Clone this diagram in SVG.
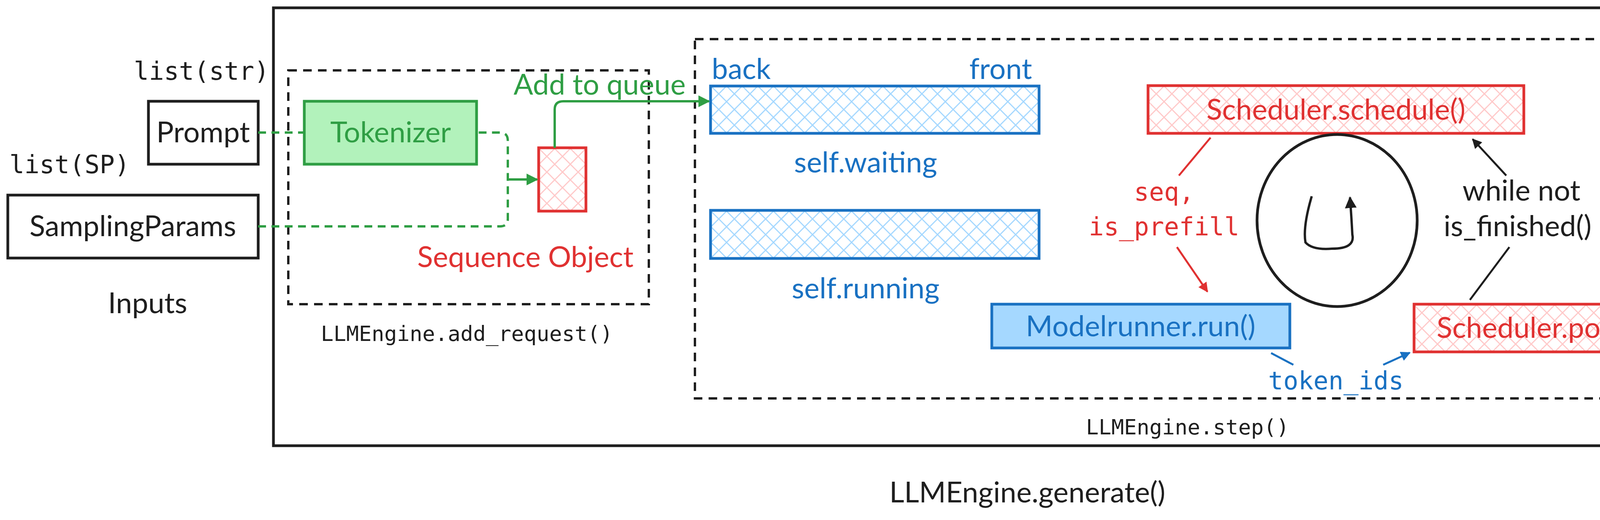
<svg xmlns="http://www.w3.org/2000/svg" width="5361" height="1330" viewBox="0 0 5361 1330">
<style>
text{font-family:"Lato","Noto Sans",sans-serif;font-size:74px}
.mono{font-family:"DejaVu Sans Mono","Liberation Mono",monospace;font-size:54px;fill:#1e1e1e}
.k{fill:#1e1e1e}.g{fill:#2f9e44}.r{fill:#e03131}.b{fill:#1971c2}
.box{fill:#fff;stroke:#1e1e1e;stroke-width:7}
.dash{fill:none;stroke:#1e1e1e;stroke-width:6;stroke-dasharray:22 16}
.gl{fill:none;stroke:#2f9e44;stroke-width:6}
.gd{fill:none;stroke:#2f9e44;stroke-width:6;stroke-dasharray:20 14}
</style>
<defs>
<pattern id="hr" width="40" height="40" patternUnits="userSpaceOnUse"><rect width="40" height="40" fill="#fff"/><path d="M0 0L40 40M40 0L0 40" stroke="#ffc9c9" stroke-width="3"/></pattern>
<pattern id="hb" width="40" height="40" patternUnits="userSpaceOnUse"><rect width="40" height="40" fill="#fff"/><path d="M0 0L40 40M40 0L0 40" stroke="#a5d8ff" stroke-width="3"/></pattern>
<marker id="ag" viewBox="0 0 10 10" refX="9" refY="5" markerWidth="5" markerHeight="5" orient="auto"><path d="M0 0L10 5L0 10z" fill="#2f9e44"/></marker>
<marker id="ar" viewBox="0 0 10 10" refX="9" refY="5" markerWidth="5" markerHeight="5" orient="auto"><path d="M0 0L10 5L0 10z" fill="#e03131"/></marker>
<marker id="ak" viewBox="0 0 10 10" refX="9" refY="5" markerWidth="5" markerHeight="5" orient="auto"><path d="M0 0L10 5L0 10z" fill="#1e1e1e"/></marker>
<marker id="ab" viewBox="0 0 10 10" refX="9" refY="5" markerWidth="5" markerHeight="5" orient="auto"><path d="M0 0L10 5L0 10z" fill="#1971c2"/></marker>
</defs>
<rect width="5361" height="1330" fill="#fff"/>
<g id="generate"><rect x="700" y="20" width="3917" height="1120" class="box" fill="none"/><text x="2630" y="1285" text-anchor="middle" class="k">LLMEngine.generate()</text></g>
<g id="add_request"><rect x="738" y="180" width="923" height="598" class="dash"/><text x="1195" y="872" text-anchor="middle" class="mono">LLMEngine.add_request()</text></g>
<g id="step"><rect x="1779" y="100" width="2761" height="919" class="dash"/><text x="3040" y="1111" text-anchor="middle" class="mono">LLMEngine.step()</text></g>
<g id="inputs"><text x="516" y="204" text-anchor="middle" class="mono" style="font-size:64px">list(str)</text><text x="178" y="443" text-anchor="middle" class="mono" style="font-size:64px">list(SP)</text><text x="378" y="801" text-anchor="middle" class="k">Inputs</text></g>
<g id="prompt"><rect x="380" y="259" width="281" height="161" class="box"/><text x="520" y="364" text-anchor="middle" class="k">Prompt</text></g>
<g id="sampling"><rect x="20" y="499" width="641" height="161" class="box"/><text x="340" y="604" text-anchor="middle" class="k">SamplingParams</text></g>
<g id="tokenizer"><rect x="779" y="259" width="441" height="161" fill="#b2f2bb" stroke="#2f9e44" stroke-width="7"/><text x="1000" y="364" text-anchor="middle" class="g">Tokenizer</text></g>
<g id="sequence"><rect x="1379" y="378" width="121" height="162" fill="url(#hr)" stroke="#e03131" stroke-width="7"/><text x="1345" y="683" text-anchor="middle" class="r">Sequence Object</text></g>
<g id="waiting"><rect x="1819" y="220" width="841" height="121" fill="url(#hb)" stroke="#1971c2" stroke-width="7"/><text x="1822" y="202" class="b">back</text><text x="2642" y="202" text-anchor="end" class="b">front</text><text x="2216" y="441" text-anchor="middle" class="b">self.waiting</text></g>
<g id="running"><rect x="1819" y="538" width="841" height="123" fill="url(#hb)" stroke="#1971c2" stroke-width="7"/><text x="2216" y="763" text-anchor="middle" class="b">self.running</text></g>
<g id="schedule"><rect x="2939" y="219" width="962" height="122" fill="url(#hr)" stroke="#e03131" stroke-width="7"/><text x="3420" y="306" text-anchor="middle" class="r">Scheduler.schedule()</text></g>
<g id="modelrunner"><rect x="2539" y="778" width="763" height="112" fill="#a5d8ff" stroke="#1971c2" stroke-width="7"/><text x="2920" y="860" text-anchor="middle" class="b">Modelrunner.run()</text></g>
<g id="postprocess"><rect x="3620" y="778" width="881" height="122" fill="url(#hr)" stroke="#e03131" stroke-width="7"/><text x="4060" y="864" text-anchor="middle" class="r">Scheduler.postprocess()</text></g>
<g id="loop"><ellipse cx="3423" cy="564" rx="205" ry="220" fill="none" stroke="#1e1e1e" stroke-width="7"/><path d="M3358 502 Q3335 580 3342 620 Q3360 640 3410 636 Q3470 636 3462 600 Q3460 560 3456 505" fill="none" stroke="#1e1e1e" stroke-width="6" marker-end="url(#ak)"/></g>
<g id="output"><text x="5040" y="403" text-anchor="middle" class="k">Output</text><text x="5040" y="492" text-anchor="middle" class="k">finished requests</text><text x="5040" y="585" text-anchor="middle" class="k">(ate each step)</text></g>
<g id="connectors">
<path d="M661 339H779" class="gd"/>
<path d="M661 579H1280Q1300 579 1300 560V360Q1300 339 1280 339H1220" class="gd"/>
<path d="M1300 459H1375" class="gl" marker-end="url(#ag)"/>
<path d="M1420 378V280Q1420 259 1442 259H1815" class="gl" marker-end="url(#ag)"/>
<text x="1535" y="242" text-anchor="middle" class="g">Add to queue</text>
<path d="M3099 352L3018 449" fill="none" stroke="#e03131" stroke-width="5"/>
<path d="M3013 632L3091 746" fill="none" stroke="#e03131" stroke-width="5" marker-end="url(#ar)"/>
<text x="2980" y="513" text-anchor="middle" class="mono" style="fill:#e03131;font-size:64px">seq,</text>
<text x="2980" y="602" text-anchor="middle" class="mono" style="fill:#e03131;font-size:64px">is_prefill</text>
<path d="M3864 632L3763 767" fill="none" stroke="#1e1e1e" stroke-width="5"/>
<path d="M3856 449L3770 356" fill="none" stroke="#1e1e1e" stroke-width="5" marker-end="url(#ak)"/>
<text x="3895" y="513" text-anchor="middle" class="k">while not</text>
<text x="3885" y="604" text-anchor="middle" class="k">is_finished()</text>
<path d="M3254 903L3311 933" fill="none" stroke="#1971c2" stroke-width="5"/>
<path d="M3541 933L3609 902" fill="none" stroke="#1971c2" stroke-width="5" marker-end="url(#ab)"/>
<text x="3420" y="996" text-anchor="middle" class="mono" style="fill:#1971c2;font-size:64px">token_ids</text>
<path d="M4339 767V440Q4339 418 4362 418H4700" fill="none" stroke="#1e1e1e" stroke-width="6" marker-end="url(#ak)"/>
</g>
</svg>
